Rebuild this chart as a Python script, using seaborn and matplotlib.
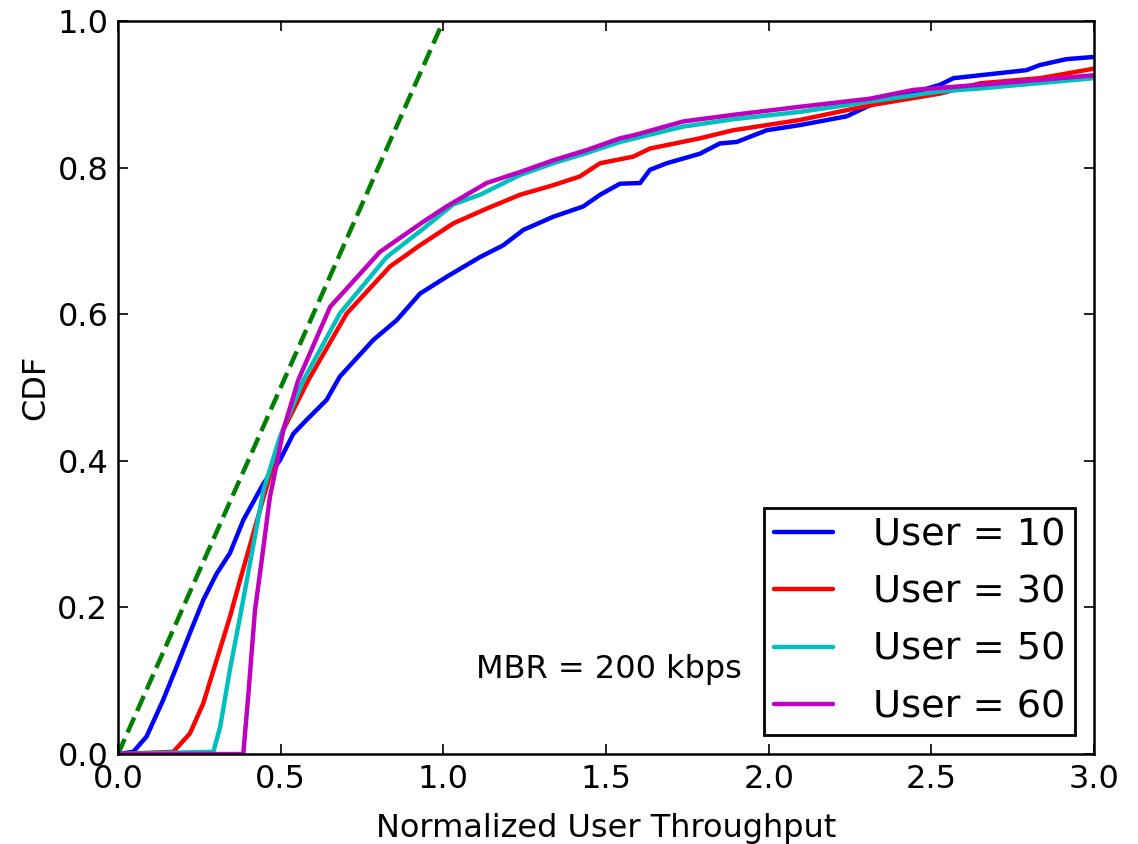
import matplotlib
matplotlib.use("Agg")
import matplotlib.pyplot as plt
import seaborn as sns
import pandas as pd

# ---------------- data ----------------
labels = ["User = 10", "User = 30", "User = 50", "User = 60"]

u10_x = [0.0, 0.047, 0.088, 0.139, 0.180, 0.221, 0.262, 0.303, 0.344, 0.385, 0.447, 0.498,
         0.539, 0.580, 0.641, 0.682, 0.785, 0.857, 0.928, 1.010, 1.113, 1.184, 1.246, 1.338,
         1.430, 1.482, 1.543, 1.605, 1.635, 1.687, 1.789, 1.850, 1.902, 1.994, 2.096, 2.240,
         2.311, 2.527, 2.568, 2.650, 2.793, 2.834, 2.916, 3.0]
u10_y = [0.0, 0.003, 0.024, 0.074, 0.119, 0.165, 0.210, 0.246, 0.274, 0.319, 0.369, 0.401,
         0.437, 0.456, 0.483, 0.515, 0.565, 0.592, 0.628, 0.651, 0.678, 0.694, 0.715, 0.733,
         0.747, 0.763, 0.778, 0.779, 0.797, 0.806, 0.819, 0.833, 0.835, 0.851, 0.858, 0.870,
         0.885, 0.913, 0.922, 0.926, 0.933, 0.940, 0.948, 0.951]

u30_x = [0.0, 0.170, 0.221, 0.262, 0.303, 0.344, 0.375, 0.457, 0.508, 0.585, 0.703, 0.836,
         0.928, 1.031, 1.133, 1.236, 1.338, 1.420, 1.482, 1.584, 1.635, 1.789, 1.891, 1.994,
         2.096, 2.311, 2.527, 2.650, 2.834, 3.0]
u30_y = [0.0, 0.003, 0.028, 0.069, 0.128, 0.187, 0.237, 0.365, 0.442, 0.510, 0.601, 0.665,
         0.694, 0.724, 0.744, 0.763, 0.776, 0.788, 0.806, 0.815, 0.826, 0.840, 0.851, 0.858,
         0.865, 0.885, 0.901, 0.915, 0.922, 0.935]

u50_x = [0.0, 0.293, 0.314, 0.344, 0.375, 0.396, 0.447, 0.498, 0.570, 0.682, 0.826, 0.928,
         1.031, 1.113, 1.236, 1.338, 1.441, 1.543, 1.738, 1.891, 2.096, 2.311, 2.527, 2.650, 3.0]
u50_y = [0.0, 0.003, 0.037, 0.115, 0.187, 0.237, 0.360, 0.433, 0.510, 0.601, 0.678, 0.713,
         0.750, 0.763, 0.790, 0.806, 0.820, 0.835, 0.856, 0.866, 0.876, 0.890, 0.904, 0.908, 0.922]

u60_x = [0.0, 0.385, 0.401, 0.421, 0.442, 0.467, 0.488, 0.508, 0.554, 0.652, 0.805, 0.938,
         1.010, 1.133, 1.236, 1.338, 1.441, 1.543, 1.584, 1.738, 1.891, 2.096, 2.311, 2.445,
         2.650, 3.0]
u60_y = [0.0, 0.0, 0.083, 0.196, 0.265, 0.351, 0.396, 0.442, 0.510, 0.610, 0.685, 0.726,
         0.747, 0.779, 0.794, 0.810, 0.824, 0.840, 0.844, 0.863, 0.872, 0.883, 0.894, 0.906,
         0.913, 0.926]

ref_x = [0.0, 1.0]
ref_y = [0.0, 1.0]

annotation = "MBR = 200 kbps"
x_ticks = [0.0, 0.5, 1.0, 1.5, 2.0, 2.5, 3.0]
y_ticks = [0.0, 0.2, 0.4, 0.6, 0.8, 1.0]

# ---------------- style ----------------
sns.set_style("ticks")
plt.rcParams.update({
    "font.family": ["DejaVu Sans"],
    "text.color": "black",
    "axes.labelcolor": "black",
    "xtick.color": "black",
    "ytick.color": "black",
    "xtick.direction": "in",
    "ytick.direction": "in",
    "xtick.top": True,
    "ytick.right": True,
    "xtick.major.size": 7,
    "ytick.major.size": 7,
    "xtick.major.width": 1.2,
    "ytick.major.width": 1.2,
    "axes.linewidth": 1.8,
    "axes.edgecolor": "black",
})

fig = plt.figure(figsize=(11.38, 8.44), dpi=100)
ax = fig.add_axes([0.1037, 0.1066, 0.8576, 0.8685])

series = [(u10_x, u10_y, "#0000ff"), (u30_x, u30_y, "#ff0000"),
          (u50_x, u50_y, "#00bfbf"), (u60_x, u60_y, "#bf00bf")]

sns.lineplot(x=ref_x, y=ref_y, ax=ax, color="#008000", linewidth=3.2,
             linestyle="--", estimator=None, sort=False, legend=False)
for (xs, ys, col), lab in zip(series, labels):
    df = pd.DataFrame({"x": xs, "y": ys})
    sns.lineplot(data=df, x="x", y="y", ax=ax, color=col, linewidth=3.2,
                 estimator=None, sort=False, label=lab)

ax.set_xlim(0, 3)
ax.set_ylim(0, 1)
ax.set_xticks(x_ticks)
ax.set_yticks(y_ticks)
ax.set_xticklabels([f"{v:.1f}" for v in x_ticks])
ax.set_yticklabels([f"{v:.1f}" for v in y_ticks])
ax.tick_params(labelsize=23, pad=7)
ax.set_xlabel("Normalized User Throughput", fontsize=23, labelpad=13)
ax.set_ylabel("CDF", fontsize=23, labelpad=4)

ax.text(1.10, 0.115, annotation, fontsize=23, va="center", ha="left")

handles, labs = ax.get_legend_handles_labels()
leg = ax.legend(handles, labs, loc="lower right", fontsize=27.5, frameon=True,
                fancybox=False, edgecolor="black", framealpha=1,
                borderaxespad=0.5, handlelength=1.55, handletextpad=1.05,
                labelspacing=0.56, borderpad=0.25)
leg.get_frame().set_linewidth(2)

fig.savefig("out.png", dpi=100)
